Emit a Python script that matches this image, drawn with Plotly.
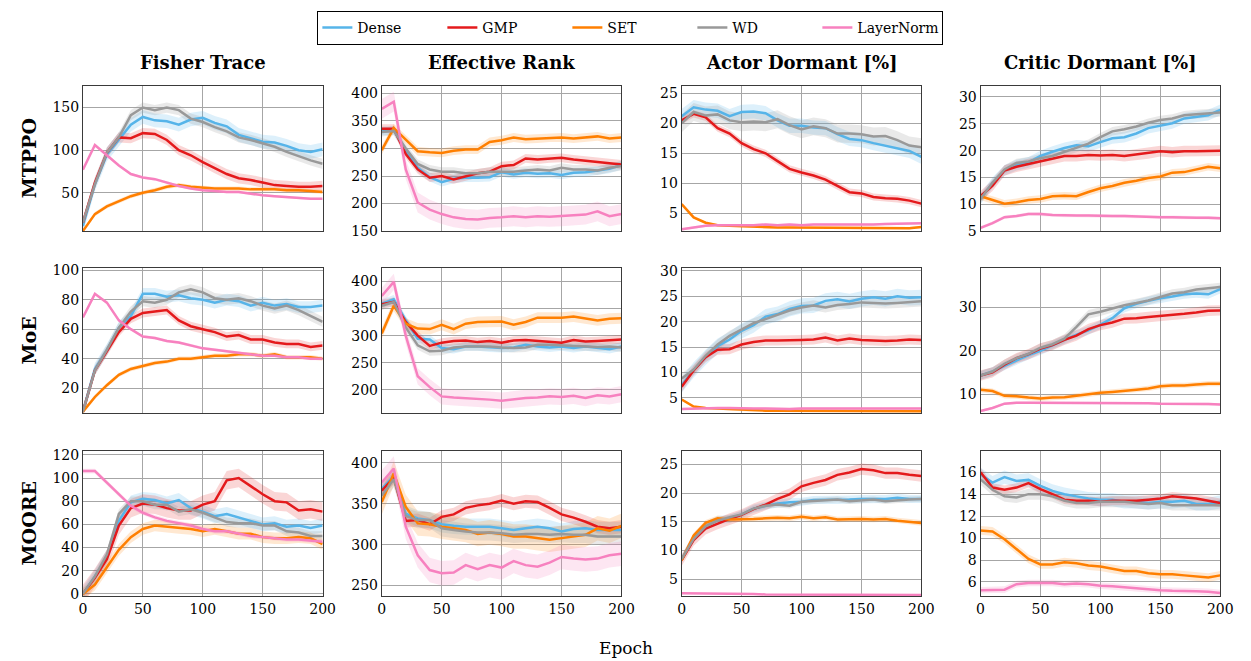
import plotly.graph_objects as go

# ---------------- data ----------------
epochs = list(range(0, 201, 10))
methods = ["Dense", "GMP", "SET", "WD", "LayerNorm"]
metrics = ["Fisher Trace", "Effective Rank", "Actor Dormant [%]", "Critic Dormant [%]"]
archs = ["MTPPO", "MoE", "MOORE"]

# MTPPO
ft_mtppo_dense = [11, 60, 95, 112, 130, 139, 135, 134, 130, 136, 138, 132, 128, 118, 114, 110, 109, 105, 100, 98, 101]
ft_mtppo_gmp = [15, 62, 97, 115, 114, 120, 119, 112, 100, 94, 86, 79, 72, 67, 65, 62, 59, 58, 57, 57, 58]
ft_mtppo_set = [5, 25, 34, 40, 46, 50, 53, 57, 59, 57, 56, 55, 55, 55, 54, 54, 54, 53, 53, 52, 51]
ft_mtppo_wd = [15, 60, 97, 115, 141, 150, 147, 150, 147, 137, 133, 127, 122, 115, 112, 108, 104, 98, 93, 88, 84]
ft_mtppo_ln = [77, 106, 94, 82, 72, 68, 66, 62, 58, 55, 53, 52, 51, 51, 49, 47, 46, 45, 44, 43, 43]

er_mtppo_dense = [332, 333, 297, 265, 248, 239, 245, 247, 247, 248, 257, 253, 256, 254, 255, 252, 256, 257, 260, 263, 270]
er_mtppo_gmp = [336, 336, 290, 262, 247, 250, 244, 250, 255, 258, 268, 270, 282, 280, 282, 283, 280, 278, 276, 274, 271]
er_mtppo_set = [297, 337, 316, 295, 293, 292, 296, 298, 298, 312, 315, 320, 317, 318, 320, 320, 318, 320, 322, 318, 320]
er_mtppo_wd = [330, 332, 300, 272, 262, 258, 258, 255, 255, 258, 258, 258, 260, 262, 260, 265, 262, 262, 260, 265, 268]
er_mtppo_ln = [372, 385, 262, 202, 189, 181, 175, 172, 171, 174, 175, 177, 175, 177, 176, 177, 178, 180, 186, 177, 181]

ad_mtppo_dense = [21.2, 22.7, 22.3, 22.1, 21.2, 21.9, 22.0, 21.7, 20.5, 19.6, 19.6, 19.3, 19.2, 18.2, 17.4, 17.2, 16.7, 16.3, 15.8, 15.4, 14.4]
ad_mtppo_gmp = [20.5, 21.6, 21.0, 19.2, 18.3, 16.7, 15.7, 15.0, 13.7, 12.4, 11.8, 11.3, 10.6, 9.5, 8.5, 8.3, 7.7, 7.5, 7.4, 7.1, 6.6]
ad_mtppo_set = [6.5, 4.3, 3.4, 3.0, 2.9, 2.8, 2.7, 2.7, 2.6, 2.6, 2.6, 2.6, 2.6, 2.5, 2.5, 2.5, 2.5, 2.5, 2.5, 2.5, 2.7]
ad_mtppo_wd = [20.0, 21.9, 21.3, 21.5, 20.5, 20.2, 20.3, 20.2, 20.7, 19.7, 19.0, 19.5, 19.2, 18.3, 18.3, 18.2, 17.8, 17.9, 17.2, 16.3, 16.0]
ad_mtppo_ln = [2.3, 2.6, 2.9, 3.0, 3.0, 2.9, 3.0, 3.1, 3.0, 3.1, 3.0, 3.1, 3.1, 3.1, 3.0, 3.1, 3.1, 3.2, 3.2, 3.3, 3.3]

cd_mtppo_dense = [11.0, 14.0, 16.3, 17.3, 17.8, 19.0, 19.8, 20.5, 21.0, 20.8, 21.6, 22.3, 22.5, 23.2, 24.2, 24.7, 25.1, 26.0, 26.3, 26.6, 27.6]
cd_mtppo_gmp = [11.5, 13.5, 16.3, 17.0, 17.5, 18.0, 18.5, 19.0, 19.0, 19.2, 19.1, 19.2, 19.0, 19.3, 19.5, 19.9, 19.7, 19.9, 19.9, 20.0, 20.0]
cd_mtppo_set = [11.5, 10.8, 10.1, 10.4, 10.8, 11.0, 11.5, 11.6, 11.5, 12.3, 13.0, 13.4, 14.0, 14.4, 14.9, 15.2, 15.9, 16.0, 16.5, 17.0, 16.7]
cd_mtppo_wd = [11.0, 14.0, 16.5, 17.7, 18.0, 18.6, 19.0, 19.8, 20.5, 21.3, 22.5, 23.6, 24.0, 24.5, 25.2, 25.7, 26.0, 26.6, 26.8, 26.9, 27.1]
cd_mtppo_ln = [5.6, 6.5, 7.6, 7.8, 8.2, 8.2, 8.0, 7.9, 7.9, 7.9, 7.8, 7.8, 7.8, 7.7, 7.7, 7.6, 7.6, 7.5, 7.5, 7.5, 7.4]

# MoE
ft_moe_dense = [4, 33, 46, 61, 69, 84, 84, 82, 83, 81, 80, 78, 80, 79, 76, 78, 76, 77, 75, 75, 76]
ft_moe_gmp = [4, 32, 45, 58, 67, 71, 72, 73, 66, 62, 60, 58, 55, 56, 53, 53, 51, 50, 50, 48, 49]
ft_moe_set = [4, 14, 22, 29, 33, 35, 37, 38, 40, 40, 41, 42, 42, 43, 43, 42, 43, 41, 41, 41, 40]
ft_moe_wd = [4, 32, 46, 61, 72, 79, 78, 80, 85, 87, 85, 81, 80, 81, 79, 76, 74, 76, 73, 69, 65]
ft_moe_ln = [68, 84, 78, 66, 60, 55, 54, 52, 51, 49, 47, 46, 45, 44, 43, 42, 42, 41, 41, 40, 40]

er_moe_dense = [359, 367, 328, 294, 293, 277, 275, 280, 280, 278, 277, 278, 283, 280, 278, 280, 277, 280, 277, 275, 280]
er_moe_gmp = [358, 362, 325, 300, 281, 287, 290, 291, 288, 290, 287, 291, 292, 290, 288, 287, 292, 289, 290, 292, 293]
er_moe_set = [304, 355, 322, 313, 312, 320, 312, 322, 325, 325, 326, 320, 325, 333, 333, 333, 335, 332, 328, 331, 332]
er_moe_wd = [355, 362, 315, 282, 271, 272, 278, 280, 280, 280, 278, 277, 278, 283, 283, 282, 280, 280, 279, 280, 278]
er_moe_ln = [373, 399, 300, 225, 205, 188, 186, 185, 184, 182, 180, 183, 185, 186, 188, 187, 189, 185, 190, 188, 192]

ad_moe_dense = [7.5, 10.5, 13.0, 15.2, 16.5, 18.2, 19.3, 21.0, 21.5, 22.5, 23.1, 23.2, 24.1, 24.4, 24.0, 24.5, 24.8, 24.5, 25.0, 24.7, 24.8]
ad_moe_gmp = [7.2, 10.4, 13.0, 14.5, 14.6, 15.5, 16.0, 16.3, 16.3, 16.3, 16.4, 16.5, 16.9, 16.3, 16.7, 16.4, 16.3, 16.2, 16.3, 16.5, 16.4]
ad_moe_set = [4.7, 3.3, 3.0, 2.9, 2.8, 2.6, 2.5, 2.5, 2.5, 2.5, 2.5, 2.5, 2.5, 2.5, 2.4, 2.4, 2.4, 2.4, 2.4, 2.4, 2.4]
ad_moe_wd = [8.8, 10.6, 13.3, 15.5, 17.2, 18.5, 19.7, 20.5, 21.3, 22.2, 22.8, 23.2, 22.8, 23.3, 23.5, 23.8, 23.7, 23.6, 23.7, 23.8, 24.0]
ad_moe_ln = [2.8, 2.9, 3.0, 3.0, 3.0, 2.9, 2.9, 2.9, 2.8, 2.8, 2.9, 2.9, 2.9, 2.9, 2.9, 2.8, 2.8, 2.9, 2.9, 2.9, 2.9]

cd_moe_dense = [14.3, 15.2, 16.5, 17.8, 19.0, 20.0, 21.3, 22.5, 23.7, 24.7, 26.0, 27.5, 29.8, 30.8, 31.5, 32.1, 32.5, 33.0, 33.2, 33.0, 34.2]
cd_moe_gmp = [14.3, 15.0, 16.8, 18.3, 19.2, 20.5, 21.3, 22.5, 23.5, 25.0, 25.9, 26.5, 27.4, 27.5, 27.8, 28.0, 28.3, 28.5, 28.8, 29.2, 29.3]
cd_moe_set = [11.0, 10.7, 9.6, 9.5, 9.2, 9.0, 9.2, 9.3, 9.6, 10.0, 10.3, 10.5, 10.7, 11.0, 11.3, 11.8, 12.0, 12.0, 12.2, 12.4, 12.4]
cd_moe_wd = [14.3, 15.2, 17.0, 18.3, 19.3, 20.7, 21.5, 22.8, 25.5, 28.4, 29.0, 29.8, 30.5, 31.0, 31.6, 32.4, 33.2, 33.5, 34.1, 34.4, 34.7]
cd_moe_ln = [6.1, 6.8, 7.8, 8.0, 8.0, 8.0, 8.0, 8.0, 7.9, 7.9, 7.9, 7.9, 7.9, 7.9, 7.9, 7.8, 7.8, 7.7, 7.7, 7.7, 7.6]

# MOORE
ft_moore_dense = [0, 15, 32, 63, 79, 82, 81, 78, 81, 74, 71, 67, 69, 66, 63, 60, 61, 58, 59, 57, 59]
ft_moore_gmp = [0, 14, 30, 59, 74, 78, 77, 74, 72, 72, 77, 80, 98, 100, 93, 86, 80, 79, 72, 73, 71]
ft_moore_set = [0, 8, 23, 38, 49, 56, 59, 58, 57, 56, 54, 56, 54, 52, 52, 49, 48, 48, 49, 48, 43]
ft_moore_wd = [0, 15, 34, 69, 80, 80, 77, 77, 71, 73, 70, 66, 62, 61, 61, 59, 59, 54, 53, 50, 50]
ft_moore_ln = [106, 106, 96, 86, 76, 70, 66, 63, 61, 59, 56, 54, 54, 52, 50, 49, 48, 47, 47, 46, 45]

er_moore_dense = [368, 384, 338, 332, 330, 325, 323, 322, 322, 322, 320, 318, 320, 322, 320, 316, 319, 320, 318, 318, 318]
er_moore_gmp = [366, 382, 329, 330, 325, 334, 337, 345, 348, 350, 354, 350, 353, 352, 345, 337, 333, 328, 322, 320, 322]
er_moore_set = [352, 387, 346, 326, 325, 322, 320, 318, 313, 315, 313, 310, 310, 308, 306, 308, 310, 312, 320, 317, 323]
er_moore_wd = [360, 380, 335, 330, 330, 320, 318, 316, 315, 315, 314, 312, 313, 313, 312, 313, 312, 312, 310, 310, 310]
er_moore_ln = [376, 393, 322, 287, 269, 265, 266, 275, 270, 275, 272, 280, 275, 273, 278, 285, 283, 282, 283, 287, 289]

ad_moore_dense = [8.5, 12.2, 14.2, 15.3, 15.5, 16.3, 17.3, 17.8, 18.2, 18.4, 18.5, 18.8, 18.8, 18.8, 18.9, 19.0, 19.0, 19.0, 19.2, 19.0, 19.0]
ad_moore_gmp = [8.3, 11.8, 13.8, 14.7, 15.5, 16.2, 17.2, 18.0, 19.0, 19.8, 21.2, 21.8, 22.3, 23.2, 23.6, 24.2, 24.0, 23.5, 23.5, 23.2, 23.0]
ad_moore_set = [8.3, 12.6, 14.8, 15.6, 15.4, 15.4, 15.5, 15.6, 15.7, 15.6, 15.9, 15.6, 15.8, 15.4, 15.5, 15.5, 15.4, 15.5, 15.2, 15.0, 14.8]
ad_moore_wd = [8.5, 12.0, 14.2, 15.2, 15.8, 16.3, 17.3, 17.8, 18.0, 17.8, 18.5, 18.6, 18.7, 18.9, 18.6, 18.7, 18.9, 18.6, 18.8, 18.9, 19.0]
ad_moore_ln = [2.5, 2.5, 2.5, 2.5, 2.5, 2.4, 2.4, 2.3, 2.3, 2.3, 2.3, 2.3, 2.3, 2.3, 2.3, 2.3, 2.3, 2.3, 2.3, 2.3, 2.2]

cd_moore_dense = [15.8, 15.05, 15.55, 15.2, 15.3, 14.75, 14.3, 14.0, 13.8, 13.6, 13.5, 13.5, 13.3, 13.3, 13.2, 13.3, 13.3, 13.4, 13.1, 13.1, 13.3]
cd_moore_gmp = [16.0, 14.6, 14.4, 14.6, 15.0, 14.45, 14.0, 13.5, 13.4, 13.4, 13.3, 13.4, 13.4, 13.4, 13.5, 13.6, 13.8, 13.7, 13.6, 13.4, 13.2]
cd_moore_set = [10.7, 10.6, 9.9, 9.0, 8.1, 7.6, 7.6, 7.8, 7.7, 7.5, 7.4, 7.2, 7.0, 7.0, 6.8, 6.7, 6.7, 6.6, 6.5, 6.4, 6.6]
cd_moore_wd = [15.35, 14.4, 13.8, 13.7, 14.0, 14.0, 13.8, 13.4, 13.2, 13.2, 13.3, 13.3, 13.3, 13.2, 13.1, 13.2, 13.0, 13.0, 13.0, 13.0, 13.0]
cd_moore_ln = [5.25, 5.3, 5.3, 5.8, 5.9, 5.9, 5.9, 5.8, 5.85, 5.8, 5.65, 5.6, 5.5, 5.45, 5.35, 5.25, 5.2, 5.2, 5.15, 5.1, 5.0]

# shaded band half-widths (Dense, GMP, SET, WD, LayerNorm) per panel
band_ft_mtppo = [8, 6, 2.5, 6, 1.5]
band_er_mtppo = [8, 8, 8, 8, 18]
band_ad_mtppo = [1.2, 0.6, 0.2, 1.5, 0.2]
band_cd_mtppo = [1.0, 1.0, 0.7, 0.8, 0.3]
band_ft_moe = [4, 3, 1.5, 3.5, 1]
band_er_moe = [8, 8, 10, 8, 15]
band_ad_moe = [1.5, 1.0, 0.2, 1.0, 0.2]
band_cd_moe = [1.0, 1.2, 0.6, 1.0, 0.3]
band_ft_moore = [6, 8, 5, 4, 2]
band_er_moore = [10, 8, 15, 10, 15]
band_ad_moore = [0.7, 1.0, 0.5, 0.5, 0.1]
band_cd_moore = [0.6, 0.4, 0.4, 0.5, 0.3]

# y tick labels per panel
yticks_ft_mtppo = [50, 100, 150]
yticks_er_mtppo = [150, 200, 250, 300, 350, 400]
yticks_ad_mtppo = [5, 10, 15, 20, 25]
yticks_cd_mtppo = [5, 10, 15, 20, 25, 30]
yticks_ft_moe = [20, 40, 60, 80, 100]
yticks_er_moe = [200, 250, 300, 350, 400]
yticks_ad_moe = [5, 10, 15, 20, 25, 30]
yticks_cd_moe = [10, 20, 30]
yticks_ft_moore = [0, 20, 40, 60, 80, 100, 120]
yticks_er_moore = [250, 300, 350, 400]
yticks_ad_moore = [5, 10, 15, 20, 25]
yticks_cd_moore = [6, 8, 10, 12, 14, 16]
xticks = [0, 50, 100, 150, 200]

# ---------------- styling ----------------
colors = ["#56B4E9", "#E41A1C", "#FF7F00", "#999999", "#F781BF"]
fills = ["rgba(86,180,233,0.2)", "rgba(228,26,28,0.18)", "rgba(255,127,0,0.18)",
         "rgba(153,153,153,0.22)", "rgba(247,129,191,0.2)"]

panels = [
    ([ft_mtppo_dense, ft_mtppo_gmp, ft_mtppo_set, ft_mtppo_wd, ft_mtppo_ln], band_ft_mtppo, yticks_ft_mtppo, [5, 175]),
    ([er_mtppo_dense, er_mtppo_gmp, er_mtppo_set, er_mtppo_wd, er_mtppo_ln], band_er_mtppo, yticks_er_mtppo, [150, 413]),
    ([ad_mtppo_dense, ad_mtppo_gmp, ad_mtppo_set, ad_mtppo_wd, ad_mtppo_ln], band_ad_mtppo, yticks_ad_mtppo, [2, 26.2]),
    ([cd_mtppo_dense, cd_mtppo_gmp, cd_mtppo_set, cd_mtppo_wd, cd_mtppo_ln], band_cd_mtppo, yticks_cd_mtppo, [5, 32]),
    ([ft_moe_dense, ft_moe_gmp, ft_moe_set, ft_moe_wd, ft_moe_ln], band_ft_moe, yticks_ft_moe, [3, 101.3]),
    ([er_moe_dense, er_moe_gmp, er_moe_set, er_moe_wd, er_moe_ln], band_er_moe, yticks_er_moe, [157, 424]),
    ([ad_moe_dense, ad_moe_gmp, ad_moe_set, ad_moe_wd, ad_moe_ln], band_ad_moe, yticks_ad_moe, [2, 30.5]),
    ([cd_moe_dense, cd_moe_gmp, cd_moe_set, cd_moe_wd, cd_moe_ln], band_cd_moe, yticks_cd_moe, [5.6, 39]),
    ([ft_moore_dense, ft_moore_gmp, ft_moore_set, ft_moore_wd, ft_moore_ln], band_ft_moore, yticks_ft_moore, [-2, 123]),
    ([er_moore_dense, er_moore_gmp, er_moore_set, er_moore_wd, er_moore_ln], band_er_moore, yticks_er_moore, [237, 414]),
    ([ad_moore_dense, ad_moore_gmp, ad_moore_set, ad_moore_wd, ad_moore_ln], band_ad_moore, yticks_ad_moore, [2, 27.3]),
    ([cd_moore_dense, cd_moore_gmp, cd_moore_set, cd_moore_wd, cd_moore_ln], band_cd_moore, yticks_cd_moore, [4.7, 17.9]),
]

W, H = 1251, 661
col_left = [80, 383, 687, 990]
col_w = 243
row_top = [82, 268, 455]
row_h = 148
SERIF = "DejaVu Serif"

fig = go.Figure()
layout_axes = {}
for k, (series, bands, yt, yr) in enumerate(panels):
    r, c = divmod(k, 4)
    sx = "" if k == 0 else str(k + 1)
    xa, ya = "x" + sx, "y" + sx
    for i, vals in enumerate(series):
        up = [v + bands[i] for v in vals]
        lo = [v - bands[i] for v in vals]
        fig.add_trace(go.Scatter(
            x=epochs + epochs[::-1], y=up + lo[::-1], fill="toself",
            fillcolor=fills[i], line=dict(width=0), mode="lines",
            hoverinfo="skip", showlegend=False, xaxis=xa, yaxis=ya))
    for i, vals in enumerate(series):
        fig.add_trace(go.Scatter(
            x=epochs, y=vals, mode="lines", name=methods[i],
            line=dict(color=colors[i], width=2.5),
            legendgroup=methods[i], showlegend=(k == 0),
            xaxis=xa, yaxis=ya))
    x0 = col_left[c] / W
    x1 = (col_left[c] + col_w) / W
    y1 = 1 - row_top[r] / H
    y0 = 1 - (row_top[r] + row_h) / H
    common = dict(showline=True, mirror=True, linecolor="#3a3a3a", linewidth=1,
                  showgrid=True, gridcolor="#a6a6a6", gridwidth=1, zeroline=False,
                  ticks="", tickfont=dict(family=SERIF, size=14, color="black"))
    layout_axes["xaxis" + sx] = dict(domain=[x0, x1], range=[0, 200], tickvals=xticks,
                                     showticklabels=(r == 2), anchor=ya, **common)
    layout_axes["yaxis" + sx] = dict(domain=[y0, y1], range=yr, tickvals=yt,
                                     anchor=xa, **common)

annotations = []
for c, m in enumerate(metrics):
    annotations.append(dict(text="<b>" + m + "</b>", x=(col_left[c] + col_w / 2) / W,
                            y=1 - 58 / H, xref="paper", yref="paper", showarrow=False,
                            xanchor="center", yanchor="middle",
                            font=dict(family=SERIF, size=18, color="black")))
for r, a in enumerate(archs):
    annotations.append(dict(text="<b>" + a + "</b>", x=25 / W,
                            y=1 - (row_top[r] + row_h / 2) / H, xref="paper", yref="paper",
                            showarrow=False, textangle=-90, xanchor="center", yanchor="middle",
                            font=dict(family=SERIF, size=19, color="black")))
annotations.append(dict(text="Epoch", x=631 / W, y=0, xref="paper", yref="paper",
                        showarrow=False, xanchor="center", yanchor="bottom", yshift=-7,
                        font=dict(family=SERIF, size=17, color="black")))

fig.update_layout(
    width=W, height=H, autosize=False,
    margin=dict(l=0, r=0, t=0, b=0),
    paper_bgcolor="white", plot_bgcolor="white",
    font=dict(family=SERIF, size=14, color="black"),
    annotations=annotations,
    legend=dict(orientation="h", x=635 / W, xanchor="center", y=1 - 5 / H, yanchor="top",
                bordercolor="black", borderwidth=1, bgcolor="white",
                entrywidth=80, entrywidthmode="pixels",
                font=dict(family=SERIF, size=14, color="black")),
    **layout_axes,
)

fig.write_html("out.html")
